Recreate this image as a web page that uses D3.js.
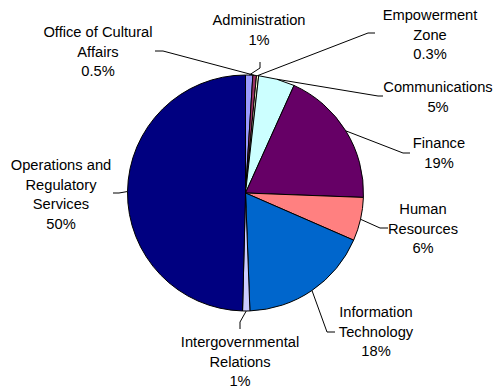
<!DOCTYPE html>
<html>
<head>
<meta charset="utf-8">
<script src="https://cdn.jsdelivr.net/npm/d3@7"></script>
<style>
  html, body { margin: 0; padding: 0; background: #fff; }
  svg { display: block; }
  text { font-family: "Liberation Sans", Arial, sans-serif; font-size: 14.7px; fill: #000; }
</style>
</head>
<body>
<svg id="chart" width="498" height="389"></svg>
<script>
// Budget share by department, clockwise from 12 o'clock
const categories = [
  "Administration",
  "Office of Cultural Affairs",
  "Empowerment Zone",
  "Communications",
  "Finance",
  "Human Resources",
  "Information Technology",
  "Intergovernmental Relations",
  "Operations and Regulatory Services"
];
const values = [1, 0.5, 0.3, 5, 19, 6, 18, 1, 50];
const valueLabels = ["1%", "0.5%", "0.3%", "5%", "19%", "6%", "18%", "1%", "50%"];
const colors = ["#9999FF", "#993366", "#FFFFCC", "#CCFFFF", "#660066", "#FF8080", "#0066CC", "#CCCCFF", "#000080"];

// Label text broken into lines
const nameLines = [
  ["Administration"],
  ["Office of Cultural", "Affairs"],
  ["Empowerment", "Zone"],
  ["Communications"],
  ["Finance"],
  ["Human", "Resources"],
  ["Information", "Technology"],
  ["Intergovernmental", "Relations"],
  ["Operations and", "Regulatory", "Services"]
];

// Label placement: text centre, first-line middle, and leader stub (outer, elbow)
const labelLayout = [
  { x: 259, y: 20,  stub: [[260, 62], [260, 68]] },
  { x: 98,  y: 32,  stub: [[155, 51], [163, 51]] },
  { x: 430, y: 15,  stub: [[375, 33], [368, 33]] },
  { x: 438, y: 87,  stub: [[383, 96], [378, 96]] },
  { x: 439, y: 143, stub: [[410, 153], [403, 153]] },
  { x: 423, y: 209, stub: [[388, 228], [380, 228]] },
  { x: 376, y: 312, stub: [[335, 332], [327, 332]] },
  { x: 240, y: 342, stub: [[240, 329], [240, 322]] },
  { x: 61,  y: 165, stub: [[113, 193], [119, 193]] }
];

const svg = d3.select("#chart");
const cx = 245.5, cy = 193, radius = 118;
const lineGap = 19.5;

const pie = d3.pie().sort(null).value(d => d).startAngle(0).endAngle(2 * Math.PI);
const arcs = pie(values);
const arc = d3.arc().innerRadius(0).outerRadius(radius);

const g = svg.append("g").attr("transform", `translate(${cx},${cy})`);

g.selectAll("path.slice")
  .data(arcs)
  .join("path")
  .attr("class", "slice")
  .attr("d", arc)
  .attr("fill", (d, i) => colors[i])
  .attr("stroke", "#000")
  .attr("stroke-width", 1)
  .attr("stroke-linejoin", "round");

// Leader lines from label stub to slice edge at its mid-angle
const edgePoint = d => {
  const a = (d.startAngle + d.endAngle) / 2;
  return [cx + radius * Math.sin(a), cy - radius * Math.cos(a)];
};

svg.selectAll("path.leader")
  .data(arcs)
  .join("path")
  .attr("class", "leader")
  .attr("d", (d, i) => d3.line()([...labelLayout[i].stub, edgePoint(d)]))
  .attr("fill", "none")
  .attr("stroke", "#000")
  .attr("stroke-width", 1);

// Text labels: name lines followed by the percentage
const labels = svg.selectAll("text.label")
  .data(arcs)
  .join("text")
  .attr("class", "label")
  .attr("text-anchor", "middle")
  .attr("x", (d, i) => labelLayout[i].x)
  .attr("y", (d, i) => labelLayout[i].y + 5);

labels.each(function (d, i) {
  const t = d3.select(this);
  const lines = [...nameLines[i], valueLabels[i]];
  lines.forEach((s, k) => {
    t.append("tspan")
      .attr("x", labelLayout[i].x)
      .attr("y", labelLayout[i].y + 5 + k * lineGap)
      .text(s);
  });
});
</script>
</body>
</html>
